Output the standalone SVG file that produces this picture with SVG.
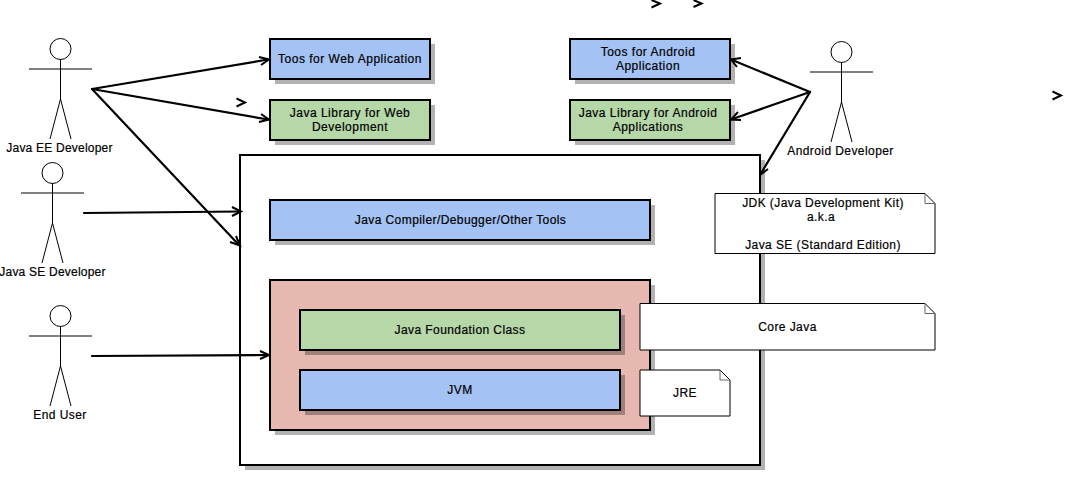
<svg xmlns="http://www.w3.org/2000/svg" width="1086" height="485" viewBox="0 0 1086 485">
<style>
text{font-family:"Liberation Sans",Arial,sans-serif;font-size:12px;letter-spacing:.42px;fill:#000;text-anchor:middle;stroke:#000;stroke-width:.2px}
.tight{letter-spacing:.22px}
.wide{letter-spacing:.5px}
.b{stroke:#000;stroke-width:2}
.blue{fill:#a4c2f4}.green{fill:#b6d7a8}.red{fill:#e6b8af}.white{fill:#fff}
.sh{fill:#000;fill-opacity:.3}
.c{fill:none;stroke:#000;stroke-width:2.200;stroke-linecap:round}
.h{fill:none;stroke:#000;stroke-width:2;stroke-linecap:butt}
.a line,.a circle{stroke:#000;stroke-width:1;fill:#fff}
.a .arm{stroke:#808080;stroke-width:2}
.n{fill:#fff;stroke:#000;stroke-width:1}
.n2{fill:none;stroke:#666;stroke-width:1}
</style>
<g id="main"><rect class="sh" x="245" y="160" width="520" height="310"/><rect class="b white" x="240" y="155" width="520" height="310"/></g>
<g id="web-tools"><rect class="sh" x="275" y="44" width="160" height="40"/><rect class="b blue" x="270" y="39" width="160" height="40"/><text class="wide" x="350" y="63">Toos for Web Application</text></g>
<g id="web-lib"><rect class="sh" x="275" y="105" width="160" height="40"/><rect class="b green" x="270" y="100" width="160" height="40"/><text class="wide" x="350" y="117">Java Library for Web</text><text class="wide" x="350" y="131">Development</text></g>
<g id="android-tools"><rect class="sh" x="575" y="44" width="160" height="40"/><rect class="b blue" x="570" y="39" width="160" height="40"/><text class="wide" x="648" y="56">Toos for Android</text><text class="wide" x="648" y="70">Application</text></g>
<g id="android-lib"><rect class="sh" x="575" y="105" width="160" height="40"/><rect class="b green" x="570" y="100" width="160" height="40"/><text class="wide" x="648" y="117">Java Library for Android</text><text class="wide" x="648" y="131">Applications</text></g>
<g id="compiler"><rect class="sh" x="275" y="205" width="380" height="40"/><rect class="b blue" x="270" y="200" width="380" height="40"/><text x="460.500" y="224">Java Compiler/Debugger/Other Tools</text></g>
<g id="jre-box"><rect class="sh" x="275" y="285" width="380" height="150"/><rect class="b red" x="270" y="280" width="380" height="150"/></g>
<g id="jfc"><rect class="sh" x="305" y="315" width="320" height="40"/><rect class="b green" x="300" y="310" width="320" height="40"/><text x="460" y="334">Java Foundation Class</text></g>
<g id="jvm"><rect class="sh" x="305" y="375" width="320" height="40"/><rect class="b blue" x="300" y="370" width="320" height="40"/><text x="460" y="394">JVM</text></g>
<g id="note-jdk"><path class="n" d="M715 193.500H925L935 203.500V253.500H715Z"/><path class="n2" d="M925 193.500V203.500H935"/><text x="823" y="207">JDK (Java Development Kit)</text><text x="821" y="221">a.k.a</text><text x="823" y="249">Java SE (Standard Edition)</text></g>
<g id="note-core"><path class="n" d="M640 303.500H925L935 313.500V350H640Z"/><path class="n2" d="M925 303.500V313.500H935"/><text x="787.500" y="331">Core Java</text></g>
<g id="note-jre"><path class="n" d="M640 370H720L730 380V416H640Z"/><path class="n2" d="M720 370V380H730"/><text x="685" y="397">JRE</text></g>
<g id="actor-ee" class="a"><circle cx="60.500" cy="49" r="10.500"/><line class="arm" x1="29" y1="69" x2="92" y2="69"/><line x1="60.500" y1="59" x2="60.500" y2="99"/><line x1="60.500" y1="99" x2="50" y2="139"/><line x1="60.500" y1="99" x2="71" y2="139"/><text class="tight" x="59.500" y="152">Java EE Developer</text></g>
<g id="actor-se" class="a"><circle cx="52.500" cy="173" r="10.500"/><line class="arm" x1="21" y1="193" x2="84" y2="193"/><line x1="52.500" y1="183" x2="52.500" y2="223"/><line x1="52.500" y1="223" x2="42" y2="263"/><line x1="52.500" y1="223" x2="63" y2="263"/><text class="tight" x="52.500" y="276">Java SE Developer</text></g>
<g id="actor-end" class="a"><circle cx="60.500" cy="316" r="10.500"/><line class="arm" x1="29" y1="336" x2="92" y2="336"/><line x1="60.500" y1="326" x2="60.500" y2="366"/><line x1="60.500" y1="366" x2="50" y2="406"/><line x1="60.500" y1="366" x2="71" y2="406"/><text x="60" y="419">End User</text></g>
<g id="actor-android" class="a"><circle cx="841.500" cy="52" r="10.500"/><line class="arm" x1="810" y1="72" x2="873" y2="72"/><line x1="841.500" y1="62" x2="841.500" y2="102"/><line x1="841.500" y1="102" x2="831" y2="142"/><line x1="841.500" y1="102" x2="852" y2="142"/><text x="840.500" y="155">Android Developer</text></g>
<g id="connectors">
<path class="c" d="M92 89L268 59.500"/><path class="h" d="M259 57L269 59.500L261 65"/>
<path class="c" d="M92 89L268 119.500"/><path class="h" d="M261 114L269 119.500L259 122"/>
<path class="c" d="M92 89L239 245"/><path class="h" d="M236 236L240 245.500L230 242"/>
<path class="c" d="M84 213L240 211.500"/><path class="h" d="M232 207L241 211.500L232 216"/>
<path class="c" d="M92 356L268 355"/><path class="h" d="M260 351L269 355L260 359"/>
<path class="c" d="M810 92L731 59.500"/><path class="h" d="M741 58L731 59.500L737 67"/>
<path class="c" d="M810 92L731 119.500"/><path class="h" d="M738 112L731 119.500L741 120"/>
<path class="c" d="M810 92L760 175"/><path class="h" d="M760 165L760 175L768 169"/>
<path class="h" d="M236.500 98.500L245 102.500L236.500 106.500"/>
<path class="h" d="M651.500 0L660 3.500L651.500 7.500"/>
<path class="h" d="M693.500 0L701.500 3.500L693.500 7"/>
<path class="h" d="M1052.500 91.500L1061 95.500L1052.500 99.500"/>
</g>
</svg>
